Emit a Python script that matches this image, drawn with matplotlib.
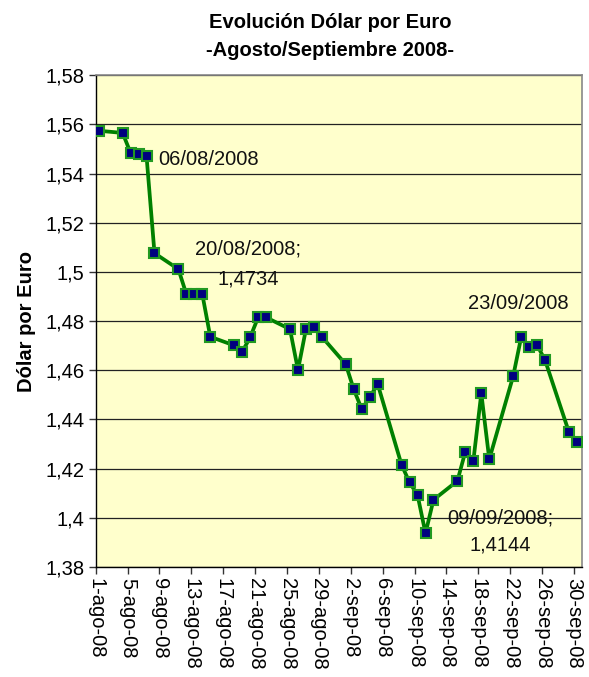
import numpy as np
import pandas as pd
import matplotlib
matplotlib.use('Agg')
import matplotlib.pyplot as plt

plt.rcParams['font.family'] = ['Liberation Sans', 'DejaVu Sans']

# fechas de cotización y valor del dólar por euro
fechas = ['2008-08-01', '2008-08-04', '2008-08-05', '2008-08-06', '2008-08-07',
          '2008-08-08', '2008-08-11', '2008-08-12', '2008-08-13', '2008-08-14',
          '2008-08-15', '2008-08-18', '2008-08-19', '2008-08-20', '2008-08-21',
          '2008-08-22', '2008-08-25', '2008-08-26', '2008-08-27', '2008-08-28',
          '2008-08-29', '2008-09-01', '2008-09-02', '2008-09-03', '2008-09-04',
          '2008-09-05', '2008-09-08', '2008-09-09', '2008-09-10', '2008-09-11',
          '2008-09-12', '2008-09-15', '2008-09-16', '2008-09-17', '2008-09-18',
          '2008-09-19', '2008-09-22', '2008-09-23', '2008-09-24', '2008-09-25',
          '2008-09-26', '2008-09-29', '2008-09-30']
valores = [1.5574, 1.5565, 1.5484, 1.5478, 1.5471,
           1.5076, 1.5011, 1.4909, 1.4909, 1.4909,
           1.4736, 1.4701, 1.4675, 1.4734, 1.4815,
           1.4815, 1.4767, 1.4601, 1.4767, 1.4774,
           1.4736, 1.4624, 1.4522, 1.4442, 1.4490,
           1.4544, 1.4215, 1.4144, 1.4093, 1.3937,
           1.4073, 1.4150, 1.4269, 1.4231, 1.4506,
           1.4238, 1.4576, 1.4734, 1.4696, 1.4702,
           1.4641, 1.4348, 1.4308]

tick_fechas = pd.date_range('2008-08-01', '2008-09-30', freq='4D')
tick_labels = ['1-ago-08', '5-ago-08', '9-ago-08', '13-ago-08', '17-ago-08',
               '21-ago-08', '25-ago-08', '29-ago-08', '2-sep-08', '6-sep-08',
               '10-sep-08', '14-sep-08', '18-sep-08', '22-sep-08', '26-sep-08',
               '30-sep-08']

# etiquetas de datos: (fecha, valor, texto, alineación)
etiquetas = [
    ('2008-08-08 20:00', 1.5459, '06/08/2008', 'left'),
    ('2008-08-20 02:00', 1.5093, '20/08/2008;', 'center'),
    ('2008-08-20 02:00', 1.4971, '1,4734', 'center'),
    ('2008-09-23 00:00', 1.4872, '23/09/2008', 'center'),
    ('2008-09-20 17:00', 1.3998, '09/09/2008;', 'center'),
    ('2008-09-20 17:00', 1.3889, '1,4144', 'center'),
]

x = pd.to_datetime(fechas) + pd.Timedelta(hours=9)

fig = plt.figure(figsize=(5.89, 6.77), dpi=100)
ax = fig.add_axes([0.1625, 0.1625, 0.988 - 0.1625, 0.889 - 0.1625])
ax.set_facecolor('#FFFFCC')

ax.plot(x, valores, color='#008000', lw=2.7, marker='s', markersize=6.5,
        markerfacecolor='#000080', markeredgecolor='#229922', markeredgewidth=1.5,
        zorder=3)

ax.set_xlim(pd.Timestamp('2008-08-01'), pd.Timestamp('2008-10-01'))
ax.set_ylim(1.38, 1.58)
yt = np.arange(1.38, 1.5801, 0.02)
ax.set_yticks(yt)
ax.set_yticklabels([('%.2f' % v).rstrip('0').replace('.', ',') for v in yt], fontsize=14.5)
ax.set_xticks(tick_fechas)
ax.set_xticklabels(tick_labels, rotation=270, fontsize=14.5, va='top', ha='center')
ax.yaxis.grid(True, color='#222222', lw=0.9)
ax.set_axisbelow(True)
ax.tick_params(direction='out', length=5, width=1, color='#333333', pad=3)

for s in ['top', 'right']:
    ax.spines[s].set_color('#888888')
    ax.spines[s].set_linewidth(1.2)
for s in ['left', 'bottom']:
    ax.spines[s].set_color('#000000')
    ax.spines[s].set_linewidth(1.0)

for f, v, t, ha in etiquetas:
    ax.text(pd.Timestamp(f), v, t, fontsize=14.5, ha=ha, va='center', color='#111111')

ax.set_ylabel('Dólar por Euro', fontsize=14.5, fontweight='bold', labelpad=7)
fig.text(0.56, 1 - 22 / 677, 'Evolución Dólar por Euro', fontsize=14.5,
         fontweight='bold', ha='center', va='center')
fig.text(0.56, 1 - 51 / 677, '-Agosto/Septiembre 2008-', fontsize=14.5,
         fontweight='bold', ha='center', va='center')

fig.savefig('out.png', dpi=100)
